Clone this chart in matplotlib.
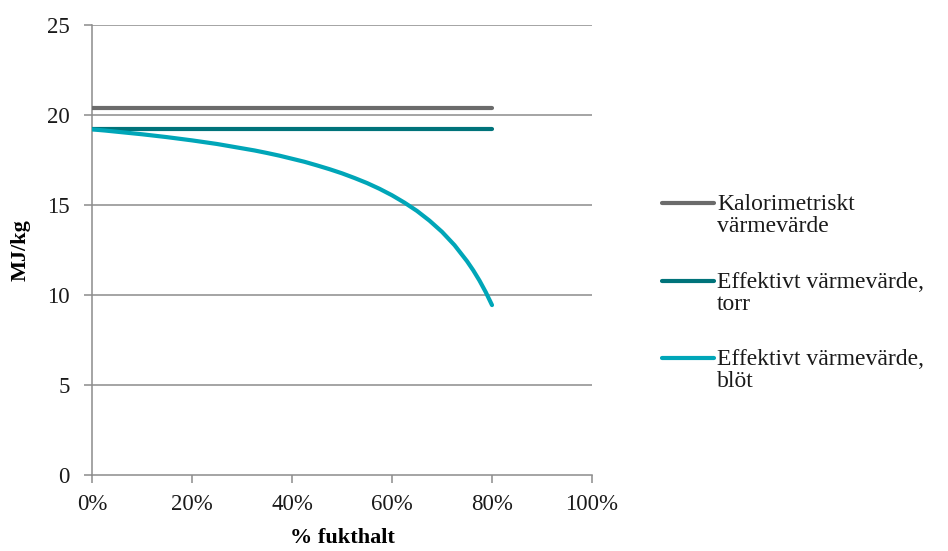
import matplotlib
matplotlib.use("Agg")
import matplotlib.pyplot as plt
from matplotlib.lines import Line2D

plt.rcParams['font.family'] = ['Liberation Serif', 'DejaVu Serif']

# Moisture content (fraction) and heating values (MJ/kg)
fukthalt = [0.0, 0.025, 0.05, 0.075, 0.10, 0.125, 0.15, 0.175, 0.20, 0.225,
            0.25, 0.275, 0.30, 0.325, 0.35, 0.375, 0.40, 0.425, 0.45, 0.475,
            0.50, 0.525, 0.55, 0.575, 0.60, 0.625, 0.65, 0.675, 0.70, 0.725,
            0.75, 0.7625, 0.775, 0.7875, 0.80]
kalorimetriskt = [20.4] * len(fukthalt)
effektivt_torr = [19.2] * len(fukthalt)
effektivt_blot = [19.20, 19.14, 19.07, 19.00, 18.93, 18.85, 18.77, 18.68, 18.59, 18.49,
                  18.39, 18.27, 18.15, 18.03, 17.89, 17.74, 17.57, 17.40, 17.20, 16.99,
                  16.76, 16.50, 16.22, 15.90, 15.54, 15.13, 14.67, 14.13, 13.51, 12.77,
                  11.88, 11.37, 10.80, 10.16, 9.44]

series_labels = ["Kalorimetriskt\nvärmevärde",
                 "Effektivt värmevärde,\ntorr",
                 "Effektivt värmevärde,\nblöt"]
series_colors = ["#6b6b6b", "#00737a", "#00a6b8"]

x_ticks = [0.0, 0.2, 0.4, 0.6, 0.8, 1.0]
x_tick_labels = ["0%", "20%", "40%", "60%", "80%", "100%"]
y_ticks = [0, 5, 10, 15, 20, 25]

fig = plt.figure(figsize=(9.48, 5.51), dpi=100)
ax = fig.add_axes([92 / 948, 1 - 475 / 551, 500 / 948, 450 / 551])

grid_color = "#8c8c8c"
for y in y_ticks[1:]:
    ax.axhline(y, color=grid_color, lw=1.1, zorder=1)

for vals, col in zip([kalorimetriskt, effektivt_torr, effektivt_blot], series_colors):
    ax.plot(fukthalt, vals, color=col, lw=3.0, solid_capstyle="round",
            solid_joinstyle="round", zorder=3)

ax.set_xlim(0, 1.0)
ax.set_ylim(0, 25)
ax.set_xticks(x_ticks)
ax.set_xticklabels(x_tick_labels)
ax.set_yticks(y_ticks)

for side in ("top", "right"):
    ax.spines[side].set_visible(False)
for side in ("left", "bottom"):
    ax.spines[side].set_color(grid_color)
    ax.spines[side].set_linewidth(1.1)

ax.tick_params(axis="both", direction="out", length=6, width=1.1,
               color=grid_color, labelsize=16.5, labelcolor="#1a1a1a")
ax.tick_params(axis="x", pad=8)
ax.tick_params(axis="y", pad=10)

ax.set_xlabel("% fukthalt", fontsize=16, fontweight="bold", labelpad=9)
ax.set_ylabel("MJ/kg", fontsize=16, fontweight="bold", labelpad=12)

# Legend drawn with handle aligned to the first text line
legend_y = [203, 281, 358]
for lab, col, yp in zip(series_labels, series_colors, legend_y):
    yf = 1 - yp / 551
    fig.add_artist(Line2D([662 / 948, 714 / 948], [yf, yf], color=col, lw=3.0,
                          solid_capstyle="round", transform=fig.transFigure))
    fig.text(717 / 948, yf + 9 / 551, lab, fontsize=17, va="top", ha="left",
             color="#1a1a1a", linespacing=1.08, transform=fig.transFigure)

fig.savefig("out.png", dpi=100)
